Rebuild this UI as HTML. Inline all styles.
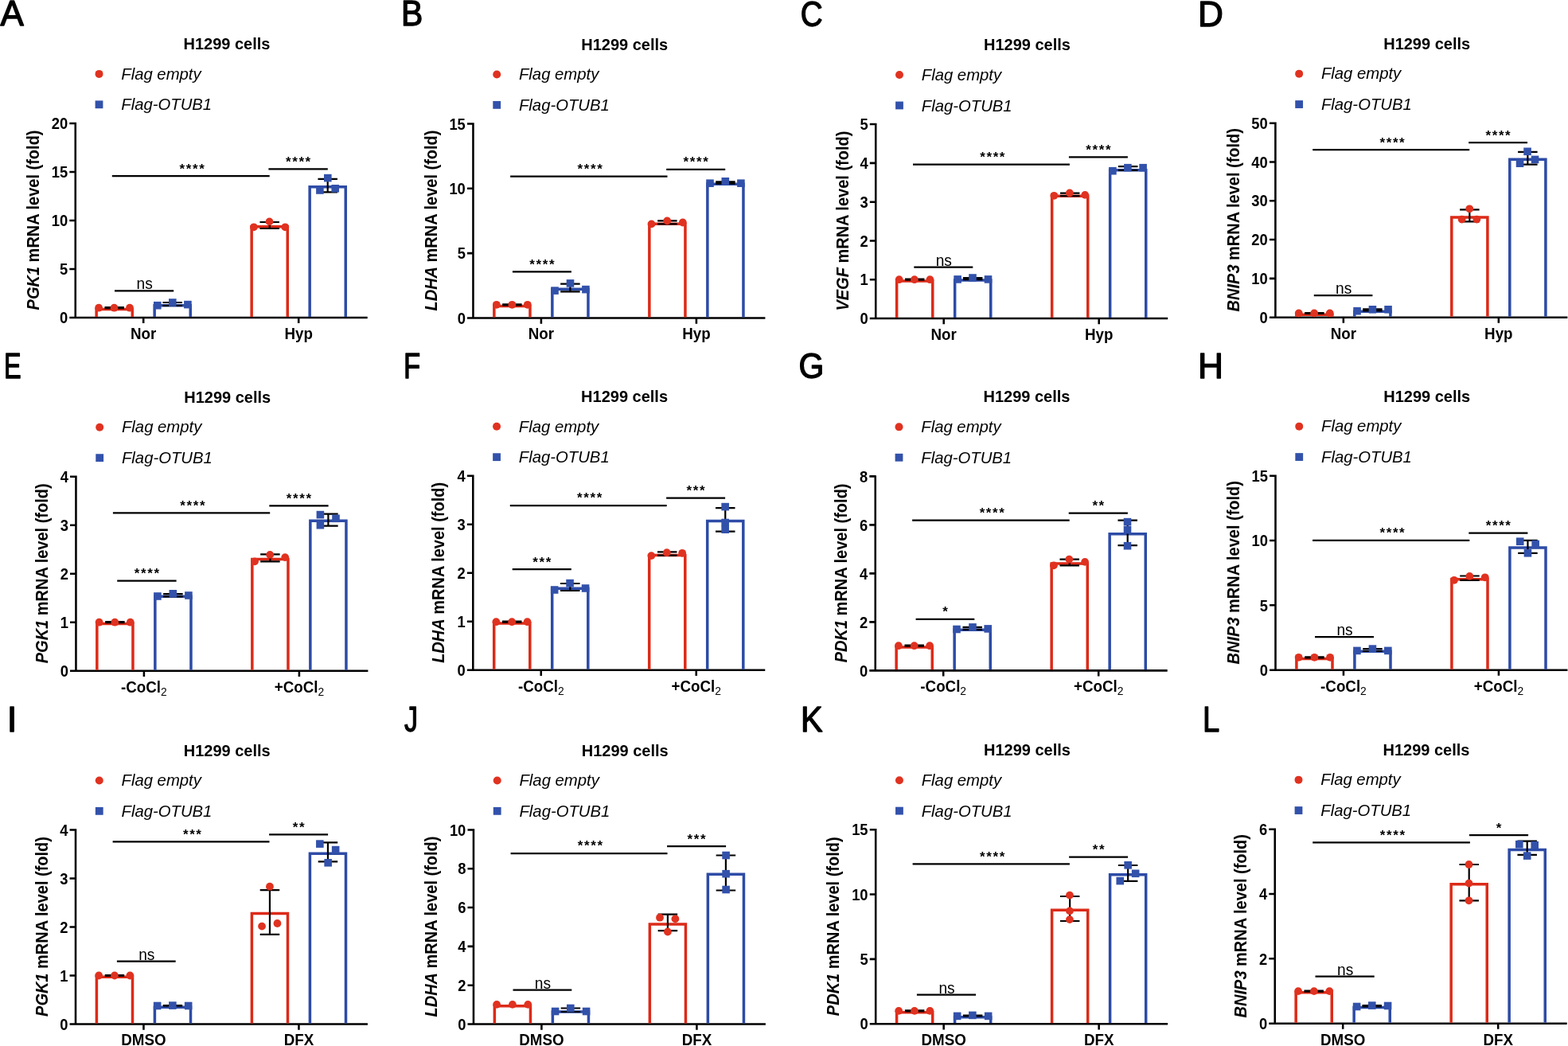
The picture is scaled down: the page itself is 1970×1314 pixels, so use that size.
<!DOCTYPE html>
<html lang="en"><head><meta charset="utf-8"><title>H1299 cells qPCR panels</title><style>
html,body{margin:0;padding:0;background:#fff;overflow:hidden;}
svg{display:block;}
text{font-family:"Liberation Sans",Arial,Helvetica,sans-serif;fill:#000;}
.let{font-size:46px;stroke:#000;stroke-width:1.4px;stroke-linejoin:round;}
.title{font-size:20.8px;font-weight:bold;}
.leg{font-size:20px;font-style:italic;}
.tick{font-size:19.75px;font-weight:bold;}
.xl{font-size:19.8px;font-weight:bold;}
.sub{font-size:14.6px;font-weight:normal;}
.ylab{font-size:21.4px;font-weight:bold;}
.ns{font-size:20.2px;}
.ast{font-size:17px;font-weight:bold;letter-spacing:1.6px;}
.ax{stroke:#000;stroke-width:2.55;fill:none;}
.eb{stroke:#000;stroke-width:2.2;fill:none;}
.sl{stroke:#000;stroke-width:2.25;fill:none;}
</style></head>
<body><svg width="1970" height="1314" viewBox="0 0 1970 1314">
<rect width="1970" height="1314" fill="#fff"/>
<text transform="matrix(0.9537 0 0 0.9751 0.60 32.47)" class="let">A</text>
<text transform="translate(285 62) scale(0.962 1)" class="title" text-anchor="middle">H1299 cells</text>
<circle cx="124.5" cy="92.9" r="5" fill="#E03220"/>
<rect x="119.6" y="126.4" width="9.8" height="9.8" fill="#3251AA"/>
<text transform="translate(152.25 99.6) scale(1.015 1)" class="leg">Flag empty</text>
<text transform="translate(152.25 138.4) scale(1.015 1)" class="leg">Flag-OTUB1</text>
<text transform="translate(85.15 406.1) scale(0.93 1)" class="tick" text-anchor="end">0</text>
<text transform="translate(85.15 345.1) scale(0.93 1)" class="tick" text-anchor="end">5</text>
<text transform="translate(85.15 284.1) scale(0.93 1)" class="tick" text-anchor="end">10</text>
<text transform="translate(85.15 223.1) scale(0.93 1)" class="tick" text-anchor="end">15</text>
<text transform="translate(85.15 162.1) scale(0.93 1)" class="tick" text-anchor="end">20</text>
<path d="M94.75 153.7V398.9M87.3 398.9H461.7M87.3 337.9H94.75M87.3 276.9H94.75M87.3 215.9H94.75M87.3 154.9H94.75M180.2 398.9V406.1M375.2 398.9V406.1" class="ax"/>
<text transform="translate(49.4 276.45) rotate(-90) scale(0.935 1)" class="ylab" text-anchor="middle"><tspan font-style="italic">PGK1</tspan> mRNA level (fold)</text>
<text transform="translate(180.2 425.9) scale(0.948 1)" class="xl" text-anchor="middle">Nor</text>
<text transform="translate(375.2 425.9) scale(0.948 1)" class="xl" text-anchor="middle">Hyp</text>
<path d="M121.15 397.9V388.45H166.25V397.9" fill="none" stroke="#DC2A18" stroke-width="3.5"/>
<path d="M194.15 397.9V383.85H239.25V397.9" fill="none" stroke="#2D4BA6" stroke-width="3.5"/>
<path d="M316.15 397.9V284.75H361.25V397.9" fill="none" stroke="#DC2A18" stroke-width="3.5"/>
<path d="M389.15 397.9V234.85H434.25V397.9" fill="none" stroke="#2D4BA6" stroke-width="3.5"/>
<path d="M143.7 386.2V387.2M131.45 386.2H155.95M131.45 387.2H155.95M216.7 380V383.9M204.45 380H228.95M204.45 383.9H228.95M338.7 279V287M326.45 279H350.95M326.45 287H350.95M411.7 224.8V241.3M399.45 224.8H423.95M399.45 241.3H423.95" class="eb"/>
<circle cx="124.1" cy="386.7" r="4.9" fill="#E03220"/>
<circle cx="143.5" cy="386.7" r="4.9" fill="#E03220"/>
<circle cx="163" cy="386.7" r="4.9" fill="#E03220"/>
<rect x="193" y="378.9" width="9.6" height="9.6" fill="#3251AA"/>
<rect x="212" y="375.2" width="9.6" height="9.6" fill="#3251AA"/>
<rect x="231.1" y="377.8" width="9.6" height="9.6" fill="#3251AA"/>
<circle cx="318.9" cy="285.3" r="4.9" fill="#E03220"/>
<circle cx="338.5" cy="278.4" r="4.9" fill="#E03220"/>
<circle cx="358.3" cy="285.3" r="4.9" fill="#E03220"/>
<rect x="397.1" y="234.2" width="9.6" height="9.6" fill="#3251AA"/>
<rect x="407" y="218.8" width="9.6" height="9.6" fill="#3251AA"/>
<rect x="416.4" y="232" width="9.6" height="9.6" fill="#3251AA"/>
<text transform="translate(181.6 363.3) scale(0.95 1)" class="ns" text-anchor="middle">ns</text>
<text x="241.95" y="217.6" class="ast" text-anchor="middle">****</text>
<text x="375.4" y="208.7" class="ast" text-anchor="middle">****</text>
<path d="M144 365.3H218.2M140.8 221.2H338.7M337.4 212.3H411.8" class="sl"/>
<text transform="matrix(0.8889 0 0 0.9691 503.92 32.47)" class="let">B</text>
<text transform="translate(784.7 62.55) scale(0.962 1)" class="title" text-anchor="middle">H1299 cells</text>
<circle cx="624.2" cy="93.45" r="5" fill="#E03220"/>
<rect x="619.3" y="126.95" width="9.8" height="9.8" fill="#3251AA"/>
<text transform="translate(651.95 100.15) scale(1.015 1)" class="leg">Flag empty</text>
<text transform="translate(651.95 138.95) scale(1.015 1)" class="leg">Flag-OTUB1</text>
<text transform="translate(584.85 406.65) scale(0.93 1)" class="tick" text-anchor="end">0</text>
<text transform="translate(584.85 325.32) scale(0.93 1)" class="tick" text-anchor="end">5</text>
<text transform="translate(584.85 243.98) scale(0.93 1)" class="tick" text-anchor="end">10</text>
<text transform="translate(584.85 162.65) scale(0.93 1)" class="tick" text-anchor="end">15</text>
<path d="M594.45 154.25V399.45M587 399.45H961.4M587 318.12H594.45M587 236.78H594.45M587 155.45H594.45M679.9 399.45V406.65M874.9 399.45V406.65" class="ax"/>
<text transform="translate(548.9 277) rotate(-90) scale(0.935 1)" class="ylab" text-anchor="middle"><tspan font-style="italic">LDHA</tspan> mRNA level (fold)</text>
<text transform="translate(679.9 426.45) scale(0.948 1)" class="xl" text-anchor="middle">Nor</text>
<text transform="translate(874.9 426.45) scale(0.948 1)" class="xl" text-anchor="middle">Hyp</text>
<path d="M620.85 398.45V384.55H665.95V398.45" fill="none" stroke="#DC2A18" stroke-width="3.5"/>
<path d="M693.85 398.45V363.25H738.95V398.45" fill="none" stroke="#2D4BA6" stroke-width="3.5"/>
<path d="M815.85 398.45V281.15H860.95V398.45" fill="none" stroke="#DC2A18" stroke-width="3.5"/>
<path d="M888.85 398.45V231.15H933.95V398.45" fill="none" stroke="#2D4BA6" stroke-width="3.5"/>
<path d="M643.4 382.3V383.3M631.15 382.3H655.65M631.15 383.3H655.65M716.4 356.7V366.4M704.15 356.7H728.65M704.15 366.4H728.65M838.4 277.4V281.4M826.15 277.4H850.65M826.15 281.4H850.65M911.4 228.4V230.6M899.15 228.4H923.65M899.15 230.6H923.65" class="eb"/>
<circle cx="623.8" cy="382.8" r="4.9" fill="#E03220"/>
<circle cx="643.4" cy="382.8" r="4.9" fill="#E03220"/>
<circle cx="662.8" cy="382.8" r="4.9" fill="#E03220"/>
<rect x="692.2" y="360.3" width="9.6" height="9.6" fill="#3251AA"/>
<rect x="711.7" y="351.1" width="9.6" height="9.6" fill="#3251AA"/>
<rect x="731.1" y="358.8" width="9.6" height="9.6" fill="#3251AA"/>
<circle cx="818.5" cy="281.4" r="4.9" fill="#E03220"/>
<circle cx="838.2" cy="277.4" r="4.9" fill="#E03220"/>
<circle cx="857.8" cy="279.5" r="4.9" fill="#E03220"/>
<rect x="887.2" y="225.4" width="9.6" height="9.6" fill="#3251AA"/>
<rect x="906.5" y="223" width="9.6" height="9.6" fill="#3251AA"/>
<rect x="926.1" y="225.4" width="9.6" height="9.6" fill="#3251AA"/>
<text x="681.7" y="337.7" class="ast" text-anchor="middle">****</text>
<text x="742" y="218" class="ast" text-anchor="middle">****</text>
<text x="875" y="209.2" class="ast" text-anchor="middle">****</text>
<path d="M643.9 341.3H717.9M641.1 221.6H838.5M837.2 212.8H911.2" class="sl"/>
<text transform="matrix(0.8393 0 0 0.9594 1005.64 32.62)" class="let">C</text>
<text transform="translate(1290.5 63.15) scale(0.962 1)" class="title" text-anchor="middle">H1299 cells</text>
<circle cx="1130" cy="94.05" r="5" fill="#E03220"/>
<rect x="1125.1" y="127.55" width="9.8" height="9.8" fill="#3251AA"/>
<text transform="translate(1157.75 100.75) scale(1.015 1)" class="leg">Flag empty</text>
<text transform="translate(1157.75 139.55) scale(1.015 1)" class="leg">Flag-OTUB1</text>
<text transform="translate(1090.65 407.25) scale(0.93 1)" class="tick" text-anchor="end">0</text>
<text transform="translate(1090.65 358.45) scale(0.93 1)" class="tick" text-anchor="end">1</text>
<text transform="translate(1090.65 309.65) scale(0.93 1)" class="tick" text-anchor="end">2</text>
<text transform="translate(1090.65 260.85) scale(0.93 1)" class="tick" text-anchor="end">3</text>
<text transform="translate(1090.65 212.05) scale(0.93 1)" class="tick" text-anchor="end">4</text>
<text transform="translate(1090.65 163.25) scale(0.93 1)" class="tick" text-anchor="end">5</text>
<path d="M1100.25 154.85V400.05M1092.8 400.05H1467.2M1092.8 351.25H1100.25M1092.8 302.45H1100.25M1092.8 253.65H1100.25M1092.8 204.85H1100.25M1092.8 156.05H1100.25M1185.7 400.05V407.25M1380.7 400.05V407.25" class="ax"/>
<text transform="translate(1065.5 277.6) rotate(-90) scale(0.935 1)" class="ylab" text-anchor="middle"><tspan font-style="italic">VEGF</tspan> mRNA level (fold)</text>
<text transform="translate(1185.7 427.05) scale(0.948 1)" class="xl" text-anchor="middle">Nor</text>
<text transform="translate(1380.7 427.05) scale(0.948 1)" class="xl" text-anchor="middle">Hyp</text>
<path d="M1126.65 399.05V352.95H1171.75V399.05" fill="none" stroke="#DC2A18" stroke-width="3.5"/>
<path d="M1199.65 399.05V352.05H1244.75V399.05" fill="none" stroke="#2D4BA6" stroke-width="3.5"/>
<path d="M1321.65 399.05V246.15H1366.75V399.05" fill="none" stroke="#DC2A18" stroke-width="3.5"/>
<path d="M1394.65 399.05V213.75H1439.75V399.05" fill="none" stroke="#2D4BA6" stroke-width="3.5"/>
<path d="M1149.2 350.7V351.7M1136.95 350.7H1161.45M1136.95 351.7H1161.45M1222.2 349V351.2M1209.95 349H1234.45M1209.95 351.2H1234.45M1344.2 242.7V246.2M1331.95 242.7H1356.45M1331.95 246.2H1356.45M1417.2 209.2V213.8M1404.95 209.2H1429.45M1404.95 213.8H1429.45" class="eb"/>
<circle cx="1129.7" cy="351.2" r="4.9" fill="#E03220"/>
<circle cx="1148.9" cy="351.2" r="4.9" fill="#E03220"/>
<circle cx="1168.4" cy="351.2" r="4.9" fill="#E03220"/>
<rect x="1198.3" y="346.1" width="9.6" height="9.6" fill="#3251AA"/>
<rect x="1217.2" y="344.2" width="9.6" height="9.6" fill="#3251AA"/>
<rect x="1236.7" y="346.1" width="9.6" height="9.6" fill="#3251AA"/>
<circle cx="1324.3" cy="245.8" r="4.9" fill="#E03220"/>
<circle cx="1343.9" cy="242.5" r="4.9" fill="#E03220"/>
<circle cx="1363.2" cy="244.9" r="4.9" fill="#E03220"/>
<rect x="1393.1" y="209.9" width="9.6" height="9.6" fill="#3251AA"/>
<rect x="1412.1" y="205.9" width="9.6" height="9.6" fill="#3251AA"/>
<rect x="1431.3" y="205.9" width="9.6" height="9.6" fill="#3251AA"/>
<text transform="translate(1185.8 333.7) scale(0.95 1)" class="ns" text-anchor="middle">ns</text>
<text x="1247.65" y="202.9" class="ast" text-anchor="middle">****</text>
<text x="1380.7" y="193.8" class="ast" text-anchor="middle">****</text>
<path d="M1148.3 335.7H1222.3M1147 206.5H1343.9M1342.9 197.4H1416.9" class="sl"/>
<text transform="matrix(0.9607 0 0 0.9751 1505.10 32.67)" class="let">D</text>
<text transform="translate(1792.65 61.75) scale(0.962 1)" class="title" text-anchor="middle">H1299 cells</text>
<circle cx="1632.15" cy="92.65" r="5" fill="#E03220"/>
<rect x="1627.25" y="126.15" width="9.8" height="9.8" fill="#3251AA"/>
<text transform="translate(1659.9 99.35) scale(1.015 1)" class="leg">Flag empty</text>
<text transform="translate(1659.9 138.15) scale(1.015 1)" class="leg">Flag-OTUB1</text>
<text transform="translate(1592.8 405.85) scale(0.93 1)" class="tick" text-anchor="end">0</text>
<text transform="translate(1592.8 357.05) scale(0.93 1)" class="tick" text-anchor="end">10</text>
<text transform="translate(1592.8 308.25) scale(0.93 1)" class="tick" text-anchor="end">20</text>
<text transform="translate(1592.8 259.45) scale(0.93 1)" class="tick" text-anchor="end">30</text>
<text transform="translate(1592.8 210.65) scale(0.93 1)" class="tick" text-anchor="end">40</text>
<text transform="translate(1592.8 161.85) scale(0.93 1)" class="tick" text-anchor="end">50</text>
<path d="M1602.4 153.45V398.65M1594.95 398.65H1969.35M1594.95 349.85H1602.4M1594.95 301.05H1602.4M1594.95 252.25H1602.4M1594.95 203.45H1602.4M1594.95 154.65H1602.4M1687.85 398.65V405.85M1882.85 398.65V405.85" class="ax"/>
<text transform="translate(1556.9 276.2) rotate(-90) scale(0.935 1)" class="ylab" text-anchor="middle"><tspan font-style="italic">BNIP3</tspan> mRNA level (fold)</text>
<text transform="translate(1687.85 425.65) scale(0.948 1)" class="xl" text-anchor="middle">Nor</text>
<text transform="translate(1882.85 425.65) scale(0.948 1)" class="xl" text-anchor="middle">Hyp</text>
<path d="M1628.8 397.65V395.25H1673.9V397.65" fill="none" stroke="#DC2A18" stroke-width="3.5"/>
<path d="M1701.8 397.65V391.15H1746.9V397.65" fill="none" stroke="#2D4BA6" stroke-width="3.5"/>
<path d="M1823.8 397.65V272.95H1868.9V397.65" fill="none" stroke="#DC2A18" stroke-width="3.5"/>
<path d="M1896.8 397.65V200.35H1941.9V397.65" fill="none" stroke="#2D4BA6" stroke-width="3.5"/>
<path d="M1651.35 393V394M1639.1 393H1663.6M1639.1 394H1663.6M1724.35 388.3V390.5M1712.1 388.3H1736.6M1712.1 390.5H1736.6M1846.35 263.4V278.4M1834.1 263.4H1858.6M1834.1 278.4H1858.6M1919.35 190.9V206.7M1907.1 190.9H1931.6M1907.1 206.7H1931.6" class="eb"/>
<circle cx="1631.75" cy="393.5" r="4.9" fill="#E03220"/>
<circle cx="1651.15" cy="393.5" r="4.9" fill="#E03220"/>
<circle cx="1670.75" cy="393.5" r="4.9" fill="#E03220"/>
<rect x="1700.25" y="385.9" width="9.6" height="9.6" fill="#3251AA"/>
<rect x="1719.65" y="384" width="9.6" height="9.6" fill="#3251AA"/>
<rect x="1739.25" y="384" width="9.6" height="9.6" fill="#3251AA"/>
<circle cx="1836.65" cy="275.6" r="4.9" fill="#E03220"/>
<circle cx="1846.25" cy="262.3" r="4.9" fill="#E03220"/>
<circle cx="1855.35" cy="275.6" r="4.9" fill="#E03220"/>
<rect x="1904.75" y="200.4" width="9.6" height="9.6" fill="#3251AA"/>
<rect x="1914.25" y="185.5" width="9.6" height="9.6" fill="#3251AA"/>
<rect x="1923.75" y="195.6" width="9.6" height="9.6" fill="#3251AA"/>
<text transform="translate(1688.1 369.1) scale(0.95 1)" class="ns" text-anchor="middle">ns</text>
<text x="1749.9" y="184.5" class="ast" text-anchor="middle">****</text>
<text x="1882.9" y="175.5" class="ast" text-anchor="middle">****</text>
<path d="M1650.8 371.1H1724.4M1649.2 188.1H1846.2M1845.2 179.1H1919" class="sl"/>
<text transform="matrix(0.7048 0 0 0.9721 5.00 474.87)" class="let">E</text>
<text transform="translate(285.7 505.85) scale(0.962 1)" class="title" text-anchor="middle">H1299 cells</text>
<circle cx="125.2" cy="536.75" r="5" fill="#E03220"/>
<rect x="120.3" y="570.25" width="9.8" height="9.8" fill="#3251AA"/>
<text transform="translate(152.95 543.45) scale(1.015 1)" class="leg">Flag empty</text>
<text transform="translate(152.95 582.25) scale(1.015 1)" class="leg">Flag-OTUB1</text>
<text transform="translate(85.85 849.95) scale(0.93 1)" class="tick" text-anchor="end">0</text>
<text transform="translate(85.85 788.95) scale(0.93 1)" class="tick" text-anchor="end">1</text>
<text transform="translate(85.85 727.95) scale(0.93 1)" class="tick" text-anchor="end">2</text>
<text transform="translate(85.85 666.95) scale(0.93 1)" class="tick" text-anchor="end">3</text>
<text transform="translate(85.85 605.95) scale(0.93 1)" class="tick" text-anchor="end">4</text>
<path d="M95.45 597.55V842.75M88 842.75H462.4M88 781.75H95.45M88 720.75H95.45M88 659.75H95.45M88 598.75H95.45M180.9 842.75V849.95M375.9 842.75V849.95" class="ax"/>
<text transform="translate(60 720.3) rotate(-90) scale(0.935 1)" class="ylab" text-anchor="middle"><tspan font-style="italic">PGK1</tspan> mRNA level (fold)</text>
<text transform="translate(180.9 869.75) scale(0.948 1)" class="xl" text-anchor="middle">-CoCl<tspan class="sub" dy="4.1">2</tspan></text>
<text transform="translate(375.9 869.75) scale(0.948 1)" class="xl" text-anchor="middle">+CoCl<tspan class="sub" dy="4.1">2</tspan></text>
<path d="M121.85 841.75V783.45H166.95V841.75" fill="none" stroke="#DC2A18" stroke-width="3.5"/>
<path d="M194.85 841.75V749.35H239.95V841.75" fill="none" stroke="#2D4BA6" stroke-width="3.5"/>
<path d="M316.85 841.75V702.55H361.95V841.75" fill="none" stroke="#DC2A18" stroke-width="3.5"/>
<path d="M389.85 841.75V654.25H434.95V841.75" fill="none" stroke="#2D4BA6" stroke-width="3.5"/>
<path d="M144.4 781.2V782.2M132.15 781.2H156.65M132.15 782.2H156.65M217.4 746.2V749.4M205.15 746.2H229.65M205.15 749.4H229.65M339.4 696.4V705.3M327.15 696.4H351.65M327.15 705.3H351.65M412.4 645.7V660.6M400.15 645.7H424.65M400.15 660.6H424.65" class="eb"/>
<circle cx="124.6" cy="781.7" r="4.9" fill="#E03220"/>
<circle cx="144.3" cy="781.7" r="4.9" fill="#E03220"/>
<circle cx="163.8" cy="781.7" r="4.9" fill="#E03220"/>
<rect x="193.1" y="744.2" width="9.6" height="9.6" fill="#3251AA"/>
<rect x="212.5" y="741" width="9.6" height="9.6" fill="#3251AA"/>
<rect x="232.1" y="743.2" width="9.6" height="9.6" fill="#3251AA"/>
<circle cx="320" cy="705.3" r="4.9" fill="#E03220"/>
<circle cx="339.2" cy="696.9" r="4.9" fill="#E03220"/>
<circle cx="358.2" cy="700.1" r="4.9" fill="#E03220"/>
<rect x="397.6" y="641.8" width="9.6" height="9.6" fill="#3251AA"/>
<rect x="397.6" y="654.9" width="9.6" height="9.6" fill="#3251AA"/>
<rect x="417.2" y="646.5" width="9.6" height="9.6" fill="#3251AA"/>
<text x="185.2" y="726.1" class="ast" text-anchor="middle">****</text>
<text x="242.75" y="640.8" class="ast" text-anchor="middle">****</text>
<text x="376.25" y="631.8" class="ast" text-anchor="middle">****</text>
<path d="M147.2 729.7H221.6M141.9 644.4H339.2M338.3 635.4H412.6" class="sl"/>
<text transform="matrix(0.7539 0 0 0.9691 506.94 474.77)" class="let">F</text>
<text transform="translate(784.55 504.9) scale(0.962 1)" class="title" text-anchor="middle">H1299 cells</text>
<circle cx="624.05" cy="535.8" r="5" fill="#E03220"/>
<rect x="619.15" y="569.3" width="9.8" height="9.8" fill="#3251AA"/>
<text transform="translate(651.8 542.5) scale(1.015 1)" class="leg">Flag empty</text>
<text transform="translate(651.8 581.3) scale(1.015 1)" class="leg">Flag-OTUB1</text>
<text transform="translate(584.7 849) scale(0.93 1)" class="tick" text-anchor="end">0</text>
<text transform="translate(584.7 788) scale(0.93 1)" class="tick" text-anchor="end">1</text>
<text transform="translate(584.7 727) scale(0.93 1)" class="tick" text-anchor="end">2</text>
<text transform="translate(584.7 666) scale(0.93 1)" class="tick" text-anchor="end">3</text>
<text transform="translate(584.7 605) scale(0.93 1)" class="tick" text-anchor="end">4</text>
<path d="M594.3 596.6V841.8M586.85 841.8H961.25M586.85 780.8H594.3M586.85 719.8H594.3M586.85 658.8H594.3M586.85 597.8H594.3M679.75 841.8V849M874.75 841.8V849" class="ax"/>
<text transform="translate(557.6 719.35) rotate(-90) scale(0.935 1)" class="ylab" text-anchor="middle"><tspan font-style="italic">LDHA</tspan> mRNA level (fold)</text>
<text transform="translate(679.75 868.8) scale(0.948 1)" class="xl" text-anchor="middle">-CoCl<tspan class="sub" dy="4.1">2</tspan></text>
<text transform="translate(874.75 868.8) scale(0.948 1)" class="xl" text-anchor="middle">+CoCl<tspan class="sub" dy="4.1">2</tspan></text>
<path d="M620.7 840.8V782.95H665.8V840.8" fill="none" stroke="#DC2A18" stroke-width="3.5"/>
<path d="M693.7 840.8V739.25H738.8V840.8" fill="none" stroke="#2D4BA6" stroke-width="3.5"/>
<path d="M815.7 840.8V697.45H860.8V840.8" fill="none" stroke="#DC2A18" stroke-width="3.5"/>
<path d="M888.7 840.8V654.55H933.8V840.8" fill="none" stroke="#2D4BA6" stroke-width="3.5"/>
<path d="M643.25 780.7V781.7M631 780.7H655.5M631 781.7H655.5M716.25 733V742M704 733H728.5M704 742H728.5M838.25 693.4V697.7M826 693.4H850.5M826 697.7H850.5M911.25 638.1V667.6M899 638.1H923.5M899 667.6H923.5" class="eb"/>
<circle cx="623.35" cy="781.2" r="4.9" fill="#E03220"/>
<circle cx="643.15" cy="781.2" r="4.9" fill="#E03220"/>
<circle cx="662.55" cy="781.2" r="4.9" fill="#E03220"/>
<rect x="691.85" y="736.2" width="9.6" height="9.6" fill="#3251AA"/>
<rect x="711.25" y="727.8" width="9.6" height="9.6" fill="#3251AA"/>
<rect x="730.75" y="734.2" width="9.6" height="9.6" fill="#3251AA"/>
<circle cx="818.35" cy="698.1" r="4.9" fill="#E03220"/>
<circle cx="837.75" cy="694.2" r="4.9" fill="#E03220"/>
<circle cx="857.15" cy="694.8" r="4.9" fill="#E03220"/>
<rect x="906.35" y="631.8" width="9.6" height="9.6" fill="#3251AA"/>
<rect x="906.35" y="651.7" width="9.6" height="9.6" fill="#3251AA"/>
<rect x="906.35" y="660.4" width="9.6" height="9.6" fill="#3251AA"/>
<text x="681.55" y="711.6" class="ast" text-anchor="middle">***</text>
<text x="741.45" y="631.4" class="ast" text-anchor="middle">****</text>
<text x="874.9" y="622.1" class="ast" text-anchor="middle">***</text>
<path d="M643.7 715.2H717.8M640.8 635H837.7M837.1 625.7H911.1" class="sl"/>
<text transform="matrix(0.8892 0 0 0.9742 1003.55 474.70)" class="let">G</text>
<text transform="translate(1290 505.45) scale(0.962 1)" class="title" text-anchor="middle">H1299 cells</text>
<circle cx="1129.5" cy="536.35" r="5" fill="#E03220"/>
<rect x="1124.6" y="569.85" width="9.8" height="9.8" fill="#3251AA"/>
<text transform="translate(1157.25 543.05) scale(1.015 1)" class="leg">Flag empty</text>
<text transform="translate(1157.25 581.85) scale(1.015 1)" class="leg">Flag-OTUB1</text>
<text transform="translate(1090.15 849.55) scale(0.93 1)" class="tick" text-anchor="end">0</text>
<text transform="translate(1090.15 788.55) scale(0.93 1)" class="tick" text-anchor="end">2</text>
<text transform="translate(1090.15 727.55) scale(0.93 1)" class="tick" text-anchor="end">4</text>
<text transform="translate(1090.15 666.55) scale(0.93 1)" class="tick" text-anchor="end">6</text>
<text transform="translate(1090.15 605.55) scale(0.93 1)" class="tick" text-anchor="end">8</text>
<path d="M1099.75 597.15V842.35M1092.3 842.35H1466.7M1092.3 781.35H1099.75M1092.3 720.35H1099.75M1092.3 659.35H1099.75M1092.3 598.35H1099.75M1185.2 842.35V849.55M1380.2 842.35V849.55" class="ax"/>
<text transform="translate(1064.1 719.9) rotate(-90) scale(0.935 1)" class="ylab" text-anchor="middle"><tspan font-style="italic">PDK1</tspan> mRNA level (fold)</text>
<text transform="translate(1185.2 869.35) scale(0.948 1)" class="xl" text-anchor="middle">-CoCl<tspan class="sub" dy="4.1">2</tspan></text>
<text transform="translate(1380.2 869.35) scale(0.948 1)" class="xl" text-anchor="middle">+CoCl<tspan class="sub" dy="4.1">2</tspan></text>
<path d="M1126.15 841.35V812.95H1171.25V841.35" fill="none" stroke="#DC2A18" stroke-width="3.5"/>
<path d="M1199.15 841.35V791.15H1244.25V841.35" fill="none" stroke="#2D4BA6" stroke-width="3.5"/>
<path d="M1321.15 841.35V708.05H1366.25V841.35" fill="none" stroke="#DC2A18" stroke-width="3.5"/>
<path d="M1394.15 841.35V670.75H1439.25V841.35" fill="none" stroke="#2D4BA6" stroke-width="3.5"/>
<path d="M1148.7 810.7V811.7M1136.45 810.7H1160.95M1136.45 811.7H1160.95M1221.7 787.9V790.9M1209.45 787.9H1233.95M1209.45 790.9H1233.95M1343.7 702.6V710.3M1331.45 702.6H1355.95M1331.45 710.3H1355.95M1416.7 653.7V685.1M1404.45 653.7H1428.95M1404.45 685.1H1428.95" class="eb"/>
<circle cx="1128.9" cy="811.2" r="4.9" fill="#E03220"/>
<circle cx="1148.7" cy="811.2" r="4.9" fill="#E03220"/>
<circle cx="1168.1" cy="811.2" r="4.9" fill="#E03220"/>
<rect x="1197.2" y="785.7" width="9.6" height="9.6" fill="#3251AA"/>
<rect x="1217.2" y="783.1" width="9.6" height="9.6" fill="#3251AA"/>
<rect x="1236.4" y="785.1" width="9.6" height="9.6" fill="#3251AA"/>
<circle cx="1323.9" cy="710.3" r="4.9" fill="#E03220"/>
<circle cx="1343.3" cy="702.6" r="4.9" fill="#E03220"/>
<circle cx="1363.1" cy="705.9" r="4.9" fill="#E03220"/>
<rect x="1411.7" y="650.8" width="9.6" height="9.6" fill="#3251AA"/>
<rect x="1411.7" y="660.9" width="9.6" height="9.6" fill="#3251AA"/>
<rect x="1411.7" y="680.9" width="9.6" height="9.6" fill="#3251AA"/>
<text x="1188.25" y="774.3" class="ast" text-anchor="middle">*</text>
<text x="1247.1" y="649.9" class="ast" text-anchor="middle">****</text>
<text x="1380.6" y="641.1" class="ast" text-anchor="middle">**</text>
<path d="M1150.6 777.9H1224.3M1146.1 653.5H1343.7M1342.7 644.7H1416.9" class="sl"/>
<text transform="matrix(0.9630 0 0 0.9691 1505.09 474.87)" class="let">H</text>
<text transform="translate(1792.75 504.75) scale(0.962 1)" class="title" text-anchor="middle">H1299 cells</text>
<circle cx="1632.25" cy="535.65" r="5" fill="#E03220"/>
<rect x="1627.35" y="569.15" width="9.8" height="9.8" fill="#3251AA"/>
<text transform="translate(1660 542.35) scale(1.015 1)" class="leg">Flag empty</text>
<text transform="translate(1660 581.15) scale(1.015 1)" class="leg">Flag-OTUB1</text>
<text transform="translate(1592.9 848.85) scale(0.93 1)" class="tick" text-anchor="end">0</text>
<text transform="translate(1592.9 767.52) scale(0.93 1)" class="tick" text-anchor="end">5</text>
<text transform="translate(1592.9 686.18) scale(0.93 1)" class="tick" text-anchor="end">10</text>
<text transform="translate(1592.9 604.85) scale(0.93 1)" class="tick" text-anchor="end">15</text>
<path d="M1602.5 596.45V841.65M1595.05 841.65H1969.45M1595.05 760.32H1602.5M1595.05 678.98H1602.5M1595.05 597.65H1602.5M1687.95 841.65V848.85M1882.95 841.65V848.85" class="ax"/>
<text transform="translate(1557 719.2) rotate(-90) scale(0.935 1)" class="ylab" text-anchor="middle"><tspan font-style="italic">BNIP3</tspan> mRNA level (fold)</text>
<text transform="translate(1687.95 868.65) scale(0.948 1)" class="xl" text-anchor="middle">-CoCl<tspan class="sub" dy="4.1">2</tspan></text>
<text transform="translate(1882.95 868.65) scale(0.948 1)" class="xl" text-anchor="middle">+CoCl<tspan class="sub" dy="4.1">2</tspan></text>
<path d="M1628.9 840.65V827.55H1674V840.65" fill="none" stroke="#DC2A18" stroke-width="3.5"/>
<path d="M1701.9 840.65V818.35H1747V840.65" fill="none" stroke="#2D4BA6" stroke-width="3.5"/>
<path d="M1823.9 840.65V727.75H1869V840.65" fill="none" stroke="#DC2A18" stroke-width="3.5"/>
<path d="M1896.9 840.65V687.95H1942V840.65" fill="none" stroke="#2D4BA6" stroke-width="3.5"/>
<path d="M1651.45 825.3V826.3M1639.2 825.3H1663.7M1639.2 826.3H1663.7M1724.45 815.1V818M1712.2 815.1H1736.7M1712.2 818H1736.7M1846.45 723.5V728.8M1834.2 723.5H1858.7M1834.2 728.8H1858.7M1919.45 678.9V694.8M1907.2 678.9H1931.7M1907.2 694.8H1931.7" class="eb"/>
<circle cx="1631.65" cy="825.8" r="4.9" fill="#E03220"/>
<circle cx="1651.45" cy="825.8" r="4.9" fill="#E03220"/>
<circle cx="1671.05" cy="825.8" r="4.9" fill="#E03220"/>
<rect x="1700.15" y="812.6" width="9.6" height="9.6" fill="#3251AA"/>
<rect x="1719.65" y="810.3" width="9.6" height="9.6" fill="#3251AA"/>
<rect x="1739.05" y="812.6" width="9.6" height="9.6" fill="#3251AA"/>
<circle cx="1826.95" cy="728.8" r="4.9" fill="#E03220"/>
<circle cx="1846.35" cy="723.9" r="4.9" fill="#E03220"/>
<circle cx="1865.75" cy="725.3" r="4.9" fill="#E03220"/>
<rect x="1904.95" y="675.4" width="9.6" height="9.6" fill="#3251AA"/>
<rect x="1924.35" y="678.7" width="9.6" height="9.6" fill="#3251AA"/>
<rect x="1914.65" y="690" width="9.6" height="9.6" fill="#3251AA"/>
<text transform="translate(1689.5 798.2) scale(0.95 1)" class="ns" text-anchor="middle">ns</text>
<text x="1749.9" y="675.3" class="ast" text-anchor="middle">****</text>
<text x="1883.15" y="666" class="ast" text-anchor="middle">****</text>
<path d="M1652 800.2H1726M1649.1 678.9H1846.3M1845.3 669.6H1919.4" class="sl"/>
<text transform="matrix(0.9913 0 0 0.9660 8.83 918.88)" class="let">I</text>
<text transform="translate(285.25 949.55) scale(0.962 1)" class="title" text-anchor="middle">H1299 cells</text>
<circle cx="124.75" cy="980.45" r="5" fill="#E03220"/>
<rect x="119.85" y="1013.95" width="9.8" height="9.8" fill="#3251AA"/>
<text transform="translate(152.5 987.15) scale(1.015 1)" class="leg">Flag empty</text>
<text transform="translate(152.5 1025.95) scale(1.015 1)" class="leg">Flag-OTUB1</text>
<text transform="translate(85.4 1293.65) scale(0.93 1)" class="tick" text-anchor="end">0</text>
<text transform="translate(85.4 1232.65) scale(0.93 1)" class="tick" text-anchor="end">1</text>
<text transform="translate(85.4 1171.65) scale(0.93 1)" class="tick" text-anchor="end">2</text>
<text transform="translate(85.4 1110.65) scale(0.93 1)" class="tick" text-anchor="end">3</text>
<text transform="translate(85.4 1049.65) scale(0.93 1)" class="tick" text-anchor="end">4</text>
<path d="M95 1041.25V1286.45M87.55 1286.45H461.95M87.55 1225.45H95M87.55 1164.45H95M87.55 1103.45H95M87.55 1042.45H95M180.45 1286.45V1293.65M375.45 1286.45V1293.65" class="ax"/>
<text transform="translate(59.6 1164) rotate(-90) scale(0.935 1)" class="ylab" text-anchor="middle"><tspan font-style="italic">PGK1</tspan> mRNA level (fold)</text>
<text transform="translate(180.45 1313.45) scale(0.948 1)" class="xl" text-anchor="middle">DMSO</text>
<text transform="translate(375.45 1313.45) scale(0.948 1)" class="xl" text-anchor="middle">DFX</text>
<path d="M121.4 1285.45V1227.25H166.5V1285.45" fill="none" stroke="#DC2A18" stroke-width="3.5"/>
<path d="M194.4 1285.45V1265.15H239.5V1285.45" fill="none" stroke="#2D4BA6" stroke-width="3.5"/>
<path d="M316.4 1285.45V1147.55H361.5V1285.45" fill="none" stroke="#DC2A18" stroke-width="3.5"/>
<path d="M389.4 1285.45V1072.25H434.5V1285.45" fill="none" stroke="#2D4BA6" stroke-width="3.5"/>
<path d="M143.95 1225V1226M131.7 1225H156.2M131.7 1226H156.2M216.95 1263V1263.6M204.7 1263H229.2M204.7 1263.6H229.2M338.95 1118.1V1173.9M326.7 1118.1H351.2M326.7 1173.9H351.2M411.95 1058.3V1082.4M399.7 1058.3H424.2M399.7 1082.4H424.2" class="eb"/>
<circle cx="124.15" cy="1225.5" r="4.9" fill="#E03220"/>
<circle cx="143.95" cy="1225.5" r="4.9" fill="#E03220"/>
<circle cx="163.35" cy="1225.5" r="4.9" fill="#E03220"/>
<rect x="192.85" y="1258.7" width="9.6" height="9.6" fill="#3251AA"/>
<rect x="212.05" y="1258.3" width="9.6" height="9.6" fill="#3251AA"/>
<rect x="231.85" y="1258.7" width="9.6" height="9.6" fill="#3251AA"/>
<circle cx="338.95" cy="1113.7" r="4.9" fill="#E03220"/>
<circle cx="329.05" cy="1163.6" r="4.9" fill="#E03220"/>
<circle cx="348.45" cy="1160" r="4.9" fill="#E03220"/>
<rect x="397.05" y="1055.3" width="9.6" height="9.6" fill="#3251AA"/>
<rect x="416.85" y="1062.8" width="9.6" height="9.6" fill="#3251AA"/>
<rect x="407.35" y="1079" width="9.6" height="9.6" fill="#3251AA"/>
<text transform="translate(184.3 1205.5) scale(0.95 1)" class="ns" text-anchor="middle">ns</text>
<text x="242.25" y="1053.7" class="ast" text-anchor="middle">***</text>
<text x="375.9" y="1044.8" class="ast" text-anchor="middle">**</text>
<path d="M146.9 1207.5H220.7M141.6 1057.3H338.5M338.1 1048.4H412.1" class="sl"/>
<text transform="matrix(0.7407 0 0 0.9851 508.10 919.19)" class="let">J</text>
<text transform="translate(785.2 949.55) scale(0.962 1)" class="title" text-anchor="middle">H1299 cells</text>
<circle cx="624.7" cy="980.45" r="5" fill="#E03220"/>
<rect x="619.8" y="1013.95" width="9.8" height="9.8" fill="#3251AA"/>
<text transform="translate(652.45 987.15) scale(1.015 1)" class="leg">Flag empty</text>
<text transform="translate(652.45 1025.95) scale(1.015 1)" class="leg">Flag-OTUB1</text>
<text transform="translate(585.35 1293.65) scale(0.93 1)" class="tick" text-anchor="end">0</text>
<text transform="translate(585.35 1244.85) scale(0.93 1)" class="tick" text-anchor="end">2</text>
<text transform="translate(585.35 1196.05) scale(0.93 1)" class="tick" text-anchor="end">4</text>
<text transform="translate(585.35 1147.25) scale(0.93 1)" class="tick" text-anchor="end">6</text>
<text transform="translate(585.35 1098.45) scale(0.93 1)" class="tick" text-anchor="end">8</text>
<text transform="translate(585.35 1049.65) scale(0.93 1)" class="tick" text-anchor="end">10</text>
<path d="M594.95 1041.25V1286.45M587.5 1286.45H961.9M587.5 1237.65H594.95M587.5 1188.85H594.95M587.5 1140.05H594.95M587.5 1091.25H594.95M587.5 1042.45H594.95M680.4 1286.45V1293.65M875.4 1286.45V1293.65" class="ax"/>
<text transform="translate(549.4 1164) rotate(-90) scale(0.935 1)" class="ylab" text-anchor="middle"><tspan font-style="italic">LDHA</tspan> mRNA level (fold)</text>
<text transform="translate(680.4 1313.45) scale(0.948 1)" class="xl" text-anchor="middle">DMSO</text>
<text transform="translate(875.4 1313.45) scale(0.948 1)" class="xl" text-anchor="middle">DFX</text>
<path d="M621.35 1285.45V1263.65H666.45V1285.45" fill="none" stroke="#DC2A18" stroke-width="3.5"/>
<path d="M694.35 1285.45V1270.95H739.45V1285.45" fill="none" stroke="#2D4BA6" stroke-width="3.5"/>
<path d="M816.35 1285.45V1160.95H861.45V1285.45" fill="none" stroke="#DC2A18" stroke-width="3.5"/>
<path d="M889.35 1285.45V1098.35H934.45V1285.45" fill="none" stroke="#2D4BA6" stroke-width="3.5"/>
<path d="M716.9 1266.5V1271M704.65 1266.5H729.15M704.65 1271H729.15M838.9 1148.7V1169.1M826.65 1148.7H851.15M826.65 1169.1H851.15M911.9 1074.5V1118.5M899.65 1074.5H924.15M899.65 1118.5H924.15" class="eb"/>
<circle cx="624.1" cy="1261.9" r="4.9" fill="#E03220"/>
<circle cx="643.9" cy="1261.9" r="4.9" fill="#E03220"/>
<circle cx="663.3" cy="1261.9" r="4.9" fill="#E03220"/>
<rect x="692.8" y="1265.7" width="9.6" height="9.6" fill="#3251AA"/>
<rect x="712" y="1261.7" width="9.6" height="9.6" fill="#3251AA"/>
<rect x="731.8" y="1265.7" width="9.6" height="9.6" fill="#3251AA"/>
<circle cx="829" cy="1152.7" r="4.9" fill="#E03220"/>
<circle cx="848.4" cy="1154.3" r="4.9" fill="#E03220"/>
<circle cx="838.9" cy="1170.5" r="4.9" fill="#E03220"/>
<rect x="907.3" y="1069.7" width="9.6" height="9.6" fill="#3251AA"/>
<rect x="907.3" y="1092.9" width="9.6" height="9.6" fill="#3251AA"/>
<rect x="907.3" y="1112.7" width="9.6" height="9.6" fill="#3251AA"/>
<text transform="translate(681.9 1241.7) scale(0.95 1)" class="ns" text-anchor="middle">ns</text>
<text x="742.25" y="1068.4" class="ast" text-anchor="middle">****</text>
<text x="875.9" y="1059.6" class="ast" text-anchor="middle">***</text>
<path d="M644.5 1243.7H718.3M641.6 1072H838.5M838.1 1063.2H912.1" class="sl"/>
<text transform="matrix(0.8973 0 0 0.9781 1006.00 918.97)" class="let">K</text>
<text transform="translate(1290.45 949.3) scale(0.962 1)" class="title" text-anchor="middle">H1299 cells</text>
<circle cx="1129.95" cy="980.2" r="5" fill="#E03220"/>
<rect x="1125.05" y="1013.7" width="9.8" height="9.8" fill="#3251AA"/>
<text transform="translate(1157.7 986.9) scale(1.015 1)" class="leg">Flag empty</text>
<text transform="translate(1157.7 1025.7) scale(1.015 1)" class="leg">Flag-OTUB1</text>
<text transform="translate(1090.6 1293.4) scale(0.93 1)" class="tick" text-anchor="end">0</text>
<text transform="translate(1090.6 1212.07) scale(0.93 1)" class="tick" text-anchor="end">5</text>
<text transform="translate(1090.6 1130.73) scale(0.93 1)" class="tick" text-anchor="end">10</text>
<text transform="translate(1090.6 1049.4) scale(0.93 1)" class="tick" text-anchor="end">15</text>
<path d="M1100.2 1041V1286.2M1092.75 1286.2H1467.15M1092.75 1204.87H1100.2M1092.75 1123.53H1100.2M1092.75 1042.2H1100.2M1185.65 1286.2V1293.4M1380.65 1286.2V1293.4" class="ax"/>
<text transform="translate(1054 1163.75) rotate(-90) scale(0.935 1)" class="ylab" text-anchor="middle"><tspan font-style="italic">PDK1</tspan> mRNA level (fold)</text>
<text transform="translate(1185.65 1313.2) scale(0.948 1)" class="xl" text-anchor="middle">DMSO</text>
<text transform="translate(1380.65 1313.2) scale(0.948 1)" class="xl" text-anchor="middle">DFX</text>
<path d="M1126.6 1285.2V1271.65H1171.7V1285.2" fill="none" stroke="#DC2A18" stroke-width="3.5"/>
<path d="M1199.6 1285.2V1277.75H1244.7V1285.2" fill="none" stroke="#2D4BA6" stroke-width="3.5"/>
<path d="M1321.6 1285.2V1143.15H1366.7V1285.2" fill="none" stroke="#DC2A18" stroke-width="3.5"/>
<path d="M1394.6 1285.2V1098.65H1439.7V1285.2" fill="none" stroke="#2D4BA6" stroke-width="3.5"/>
<path d="M1149.15 1269.4V1270.4M1136.9 1269.4H1161.4M1136.9 1270.4H1161.4M1222.15 1275.5V1276.5M1209.9 1275.5H1234.4M1209.9 1276.5H1234.4M1344.15 1126V1157M1331.9 1126H1356.4M1331.9 1157H1356.4M1417.15 1087V1106.8M1404.9 1087H1429.4M1404.9 1106.8H1429.4" class="eb"/>
<circle cx="1129.15" cy="1269.9" r="4.9" fill="#E03220"/>
<circle cx="1148.95" cy="1269.9" r="4.9" fill="#E03220"/>
<circle cx="1168.35" cy="1269.9" r="4.9" fill="#E03220"/>
<rect x="1197.85" y="1271.6" width="9.6" height="9.6" fill="#3251AA"/>
<rect x="1217.05" y="1270.6" width="9.6" height="9.6" fill="#3251AA"/>
<rect x="1236.85" y="1271.6" width="9.6" height="9.6" fill="#3251AA"/>
<circle cx="1343.95" cy="1124.6" r="4.9" fill="#E03220"/>
<circle cx="1343.95" cy="1144.4" r="4.9" fill="#E03220"/>
<circle cx="1343.95" cy="1155.1" r="4.9" fill="#E03220"/>
<rect x="1412.35" y="1082" width="9.6" height="9.6" fill="#3251AA"/>
<rect x="1421.85" y="1092.5" width="9.6" height="9.6" fill="#3251AA"/>
<rect x="1402.45" y="1101.8" width="9.6" height="9.6" fill="#3251AA"/>
<text transform="translate(1189.5 1247.7) scale(0.95 1)" class="ns" text-anchor="middle">ns</text>
<text x="1247.45" y="1081.8" class="ast" text-anchor="middle">****</text>
<text x="1380.9" y="1072.9" class="ast" text-anchor="middle">**</text>
<path d="M1151.9 1249.7H1226.1M1146.6 1085.4H1343.9M1343.1 1076.5H1417.1" class="sl"/>
<text transform="matrix(0.8324 0 0 0.9751 1511.10 918.97)" class="let">L</text>
<text transform="translate(1792 948.75) scale(0.962 1)" class="title" text-anchor="middle">H1299 cells</text>
<circle cx="1631.5" cy="979.65" r="5" fill="#E03220"/>
<rect x="1626.6" y="1013.15" width="9.8" height="9.8" fill="#3251AA"/>
<text transform="translate(1659.25 986.35) scale(1.015 1)" class="leg">Flag empty</text>
<text transform="translate(1659.25 1025.15) scale(1.015 1)" class="leg">Flag-OTUB1</text>
<text transform="translate(1592.15 1292.85) scale(0.93 1)" class="tick" text-anchor="end">0</text>
<text transform="translate(1592.15 1211.52) scale(0.93 1)" class="tick" text-anchor="end">2</text>
<text transform="translate(1592.15 1130.18) scale(0.93 1)" class="tick" text-anchor="end">4</text>
<text transform="translate(1592.15 1048.85) scale(0.93 1)" class="tick" text-anchor="end">6</text>
<path d="M1601.75 1040.45V1285.65M1594.3 1285.65H1968.7M1594.3 1204.32H1601.75M1594.3 1122.98H1601.75M1594.3 1041.65H1601.75M1687.2 1285.65V1292.85M1882.2 1285.65V1292.85" class="ax"/>
<text transform="translate(1565.6 1163.2) rotate(-90) scale(0.935 1)" class="ylab" text-anchor="middle"><tspan font-style="italic">BNIP3</tspan> mRNA level (fold)</text>
<text transform="translate(1687.2 1312.65) scale(0.948 1)" class="xl" text-anchor="middle">DMSO</text>
<text transform="translate(1882.2 1312.65) scale(0.948 1)" class="xl" text-anchor="middle">DFX</text>
<path d="M1628.15 1284.65V1246.85H1673.25V1284.65" fill="none" stroke="#DC2A18" stroke-width="3.5"/>
<path d="M1701.15 1284.65V1265.45H1746.25V1284.65" fill="none" stroke="#2D4BA6" stroke-width="3.5"/>
<path d="M1823.15 1284.65V1110.75H1868.25V1284.65" fill="none" stroke="#DC2A18" stroke-width="3.5"/>
<path d="M1896.15 1284.65V1067.55H1941.25V1284.65" fill="none" stroke="#2D4BA6" stroke-width="3.5"/>
<path d="M1650.7 1244.6V1245.6M1638.45 1244.6H1662.95M1638.45 1245.6H1662.95M1723.7 1263.1V1264.3M1711.45 1263.1H1735.95M1711.45 1264.3H1735.95M1845.7 1086V1131.3M1833.45 1086H1857.95M1833.45 1131.3H1857.95M1918.7 1056.7V1073.9M1906.45 1056.7H1930.95M1906.45 1073.9H1930.95" class="eb"/>
<circle cx="1631.1" cy="1245.1" r="4.9" fill="#E03220"/>
<circle cx="1650.9" cy="1245.1" r="4.9" fill="#E03220"/>
<circle cx="1670.3" cy="1245.1" r="4.9" fill="#E03220"/>
<rect x="1699.8" y="1259.7" width="9.6" height="9.6" fill="#3251AA"/>
<rect x="1719" y="1258.3" width="9.6" height="9.6" fill="#3251AA"/>
<rect x="1738.8" y="1258.7" width="9.6" height="9.6" fill="#3251AA"/>
<circle cx="1845.5" cy="1086" r="4.9" fill="#E03220"/>
<circle cx="1845.5" cy="1109.6" r="4.9" fill="#E03220"/>
<circle cx="1845.5" cy="1131.3" r="4.9" fill="#E03220"/>
<rect x="1904" y="1055.9" width="9.6" height="9.6" fill="#3251AA"/>
<rect x="1923.4" y="1056.9" width="9.6" height="9.6" fill="#3251AA"/>
<rect x="1913.9" y="1070.3" width="9.6" height="9.6" fill="#3251AA"/>
<text transform="translate(1690.1 1224.5) scale(0.95 1)" class="ns" text-anchor="middle">ns</text>
<text x="1750.25" y="1054.7" class="ast" text-anchor="middle">****</text>
<text x="1883.8" y="1045.6" class="ast" text-anchor="middle">*</text>
<path d="M1652.5 1226.5H1726.7M1649.2 1058.3H1846.9M1845.9 1049.2H1920.1" class="sl"/>
</svg></body></html>
